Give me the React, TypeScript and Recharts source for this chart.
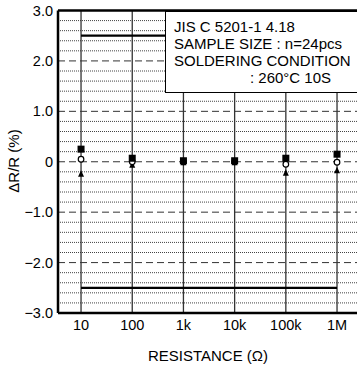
import { ComposedChart, XAxis, YAxis, Scatter, ReferenceLine } from "recharts";

const categories = ["10", "100", "1k", "10k", "100k", "1M"];
const maxValues = [0.25, 0.07, 0.02, 0.02, 0.07, 0.15];
const avgValues = [0.05, 0.0, 0.0, 0.0, -0.05, -0.01];
const minValues = [-0.25, -0.07, -0.02, -0.02, -0.23, -0.18];
const yTicks = [-3, -2, -1, 0, 1, 2, 3];
const minorTicks = [
  -2.8, -2.6, -2.4, -2.2, -1.8, -1.6, -1.4, -1.2, -0.8, -0.6, -0.4, -0.2,
  0.2, 0.4, 0.6, 0.8, 1.2, 1.4, 1.6, 1.8, 2.2, 2.4, 2.6, 2.8,
];
const upperLimit = 2.5;
const lowerLimit = -2.5;
const noteLines = [
  "JIS C 5201-1 4.18",
  "SAMPLE SIZE : n=24pcs",
  "SOLDERING CONDITION",
  ": 260°C 10S",
];

const data = categories.map((c, i) => ({
  x: i,
  label: c,
  max: maxValues[i],
  avg: avgValues[i],
  min: minValues[i],
}));

const FONT = "'Liberation Sans', Arial, Helvetica, sans-serif";

const yLabel = (v: number) => {
  if (v === 0) return "0";
  const s = Math.abs(v).toFixed(1);
  return v < 0 ? "\u2212" + s : s;
};

const Square = (p: any) => (
  <rect x={p.cx - 3.5} y={p.cy - 3.5} width={7} height={7} fill="#000" />
);
const OpenDot = (p: any) => (
  <circle cx={p.cx} cy={p.cy} r={2.8} fill="#fff" stroke="#000" strokeWidth={1.2} />
);
const Tri = (p: any) => (
  <polygon
    points={`${p.cx},${p.cy - 4} ${p.cx - 3},${p.cy + 2.5} ${p.cx + 3},${p.cy + 2.5}`}
    fill="#000"
  />
);

export default function App() {
  return (
    <div style={{ position: "absolute", left: 0, top: 0, width: 357, height: 370, fontFamily: FONT, background: "#fff", overflow: "hidden" }}>
      <ComposedChart
        width={357}
        height={370}
        data={data}
        margin={{ top: 10.5, right: 0, bottom: 27, left: 8 }}
      >
        <XAxis
          type="number"
          dataKey="x"
          domain={[-0.45, 5.39]}
          ticks={[0, 1, 2, 3, 4, 5]}
          tickFormatter={(v: number) => categories[v]}
          axisLine={{ stroke: "#000", strokeWidth: 2.5 }}
          tickLine={false}
          tickSize={0}
          tickMargin={7}
          height={30}
          tick={{ fill: "#000", fontSize: 14.5, fontFamily: FONT }}
          allowDataOverflow
        />
        <YAxis
          type="number"
          domain={[-3, 3]}
          ticks={yTicks}
          tickFormatter={yLabel}
          axisLine={{ stroke: "#000", strokeWidth: 2.5 }}
          tickLine={false}
          tickSize={0}
          tickMargin={5}
          width={50}
          tick={{ fill: "#000", fontSize: 14.5, fontFamily: FONT }}
          allowDataOverflow
        />
        {minorTicks.map((v) => (
          <ReferenceLine key={"m" + v} y={v} stroke="#444" strokeWidth={1} strokeDasharray="1 1" />
        ))}
        {yTicks
          .filter((v) => v !== 3 && v !== -3)
          .map((v) => (
            <ReferenceLine key={"d" + v} y={v} stroke="#333" strokeWidth={1} strokeDasharray="7 4" />
          ))}
        {categories.map((c, i) => (
          <ReferenceLine key={"v" + c} x={i} stroke="#333" strokeWidth={1.3} />
        ))}
        <ReferenceLine y={3} stroke="#000" strokeWidth={2.5} />
        <ReferenceLine
          segment={[{ x: 0, y: upperLimit }, { x: 5, y: upperLimit }]}
          stroke="#000"
          strokeWidth={2.2}
        />
        <ReferenceLine
          segment={[{ x: 0, y: lowerLimit }, { x: 5, y: lowerLimit }]}
          stroke="#000"
          strokeWidth={2.2}
        />
        <Scatter dataKey="min" shape={Tri} isAnimationActive={false} />
        <Scatter dataKey="avg" shape={OpenDot} isAnimationActive={false} />
        <Scatter dataKey="max" shape={Square} isAnimationActive={false} />
      </ComposedChart>

      <div
        style={{
          position: "absolute",
          left: 165,
          top: 9.5,
          width: 200,
          height: 83,
          boxSizing: "border-box",
          background: "#fff",
          borderLeft: "1.5px solid #000",
          borderBottom: "1.5px solid #000",
          borderTop: "2.5px solid #000",
          padding: "6px 0 0 8px",
          fontSize: 15,
          lineHeight: "17px",
          color: "#000",
          whiteSpace: "nowrap",
        }}
      >
        {noteLines.map((t, i) => (
          <div key={t} style={{ paddingLeft: i === 3 ? 76 : 0 }}>
            {t}
          </div>
        ))}
      </div>

      <div
        style={{
          position: "absolute",
          left: 13,
          top: 161,
          transform: "translate(-50%, -50%) rotate(-90deg)",
          fontSize: 15,
          whiteSpace: "nowrap",
          color: "#000",
        }}
      >
        ΔR/R (%)
      </div>
      <div
        style={{
          position: "absolute",
          left: 208,
          top: 355,
          transform: "translate(-50%, -50%)",
          fontSize: 15,
          whiteSpace: "nowrap",
          color: "#000",
        }}
      >
        RESISTANCE (Ω)
      </div>
    </div>
  );
}
